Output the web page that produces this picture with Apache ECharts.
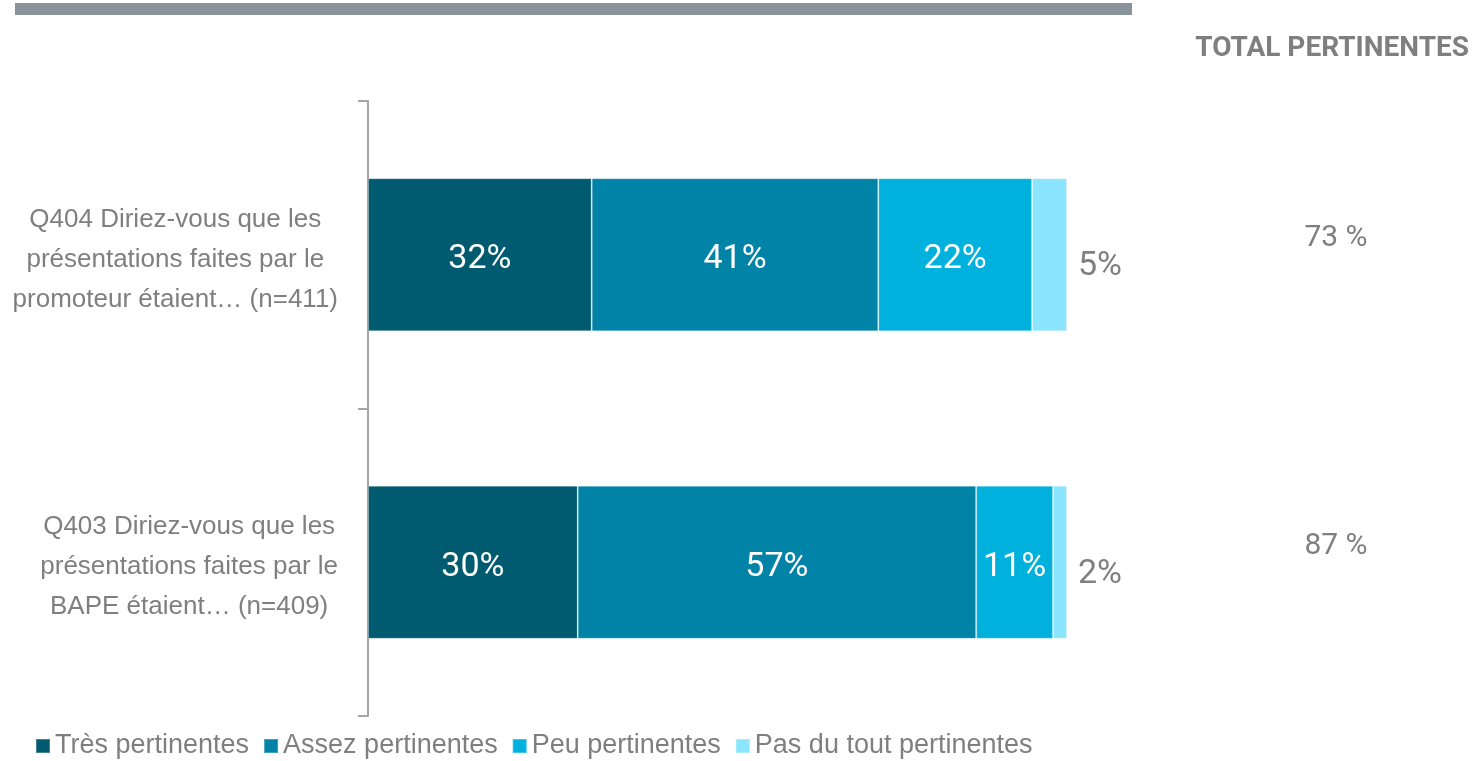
<!DOCTYPE html>
<html>
<head>
<meta charset="utf-8">
<script src="https://cdn.jsdelivr.net/npm/echarts@6/dist/echarts.min.js"></script>
<style>
  html, body { margin: 0; padding: 0; background: #ffffff; }
  #chart { width: 1476px; height: 761px; }
</style>
</head>
<body>
<div id="chart"></div>
<script>
// Questions (one bar each), answer categories and their shares in %
const categories = [
  'Q404 Diriez-vous que les\nprésentations faites par le\npromoteur étaient… (n=411)',
  'Q403 Diriez-vous que les\nprésentations faites par le\nBAPE étaient… (n=409)'
];
const seriesNames = ['Très pertinentes', 'Assez pertinentes', 'Peu pertinentes', 'Pas du tout pertinentes'];
const tresPertinentes = [32, 30];
const assezPertinentes = [41, 57];
const peuPertinentes = [22, 11];
const pasDuToutPertinentes = [5, 2];
const totalPertinentes = [73, 87];
const totalTitle = 'TOTAL PERTINENTES';

const FONT = '"Liberation Sans", Arial, sans-serif';
const FONT_NUM = 'Roboto, "Liberation Sans", Arial, sans-serif';
const GREY = '#7f7f7f';
const colors = ['#005a70', '#0083a7', '#00b0dd', '#8be5ff'];

// Category labels: a right-aligned block whose lines are centred within it.
const measureCtx = document.createElement('canvas').getContext('2d');
measureCtx.font = '26px ' + FONT;
const rich = {};
const labelText = categories.map((cat, ci) => {
  const lines = cat.split('\n');
  const widths = lines.map(l => measureCtx.measureText(l).width);
  const maxW = Math.max(...widths);
  return lines.map((l, li) => {
    const key = 'c' + ci + 'l' + li;
    rich[key] = {
      fontSize: 26, lineHeight: 40, color: GREY, fontFamily: FONT,
      padding: [0, (maxW - widths[li]) / 2, 0, 0]
    };
    return '{' + key + '|' + l + '}';
  }).join('\n');
});

const values = [tresPertinentes, assezPertinentes, peuPertinentes, pasDuToutPertinentes];
const series = values.map((data, i) => {
  const last = i === values.length - 1;
  return {
    name: seriesNames[i],
    type: 'bar',
    stack: 'total',
    barWidth: 153,
    data: data,
    itemStyle: { color: colors[i], borderColor: 'rgba(255,255,255,0.25)', borderWidth: 1 },
    label: last ? {
      show: true, position: 'right', distance: 11, offset: [0, 12],
      formatter: '{c}%', color: GREY, fontSize: 34, fontFamily: FONT_NUM
    } : {
      show: true, position: 'inside', offset: [0, 5],
      formatter: '{c}%', color: '#ffffff', fontSize: 34, fontFamily: FONT_NUM
    },
    emphasis: { disabled: true }
  };
});

const chart = echarts.init(document.getElementById('chart'), null, { renderer: 'canvas' });
chart.setOption({
  animation: false,
  backgroundColor: '#ffffff',
  textStyle: { fontFamily: FONT },
  title: {
    text: totalTitle, right: 2, top: 30,
    textStyle: { fontSize: 28, fontWeight: 'bold', color: GREY, fontFamily: FONT_NUM }
  },
  graphic: [{
    type: 'rect', left: 15, top: 3,
    shape: { width: 1117, height: 12 },
    style: { fill: '#88939c' }, silent: true
  }],
  legend: {
    left: 35, top: 732, padding: 0,
    itemWidth: 14, itemHeight: 14, itemGap: 14,
    icon: 'rect',
    data: seriesNames,
    textStyle: { fontSize: 27, lineHeight: 28, color: GREY, fontFamily: FONT }
  },
  grid: { left: 368, right: 409, top: 101, bottom: 45, containLabel: false },
  xAxis: {
    type: 'value', min: 0, max: 100, show: false
  },
  yAxis: [{
    type: 'category',
    inverse: true,
    data: categories,
    axisLine: { show: true, lineStyle: { color: '#a6a6a6', width: 2 } },
    axisTick: { show: true, alignWithLabel: false, inside: false, length: 10, lineStyle: { color: '#a6a6a6', width: 2 } },
    axisLabel: {
      margin: 30, align: 'right', padding: [10, 0, 0, 0],
      formatter: (v, idx) => labelText[idx],
      rich: rich
    }
  }, {
    type: 'category',
    inverse: true,
    position: 'right',
    data: categories,
    axisLine: { show: false },
    axisTick: { show: false },
    axisLabel: {
      margin: 269, align: 'center', verticalAlign: 'bottom', lineHeight: 32,
      formatter: (v, idx) => totalPertinentes[idx] + ' %',
      fontSize: 30, color: GREY, fontFamily: FONT_NUM
    }
  }],
  series: series
});
</script>
</body>
</html>
